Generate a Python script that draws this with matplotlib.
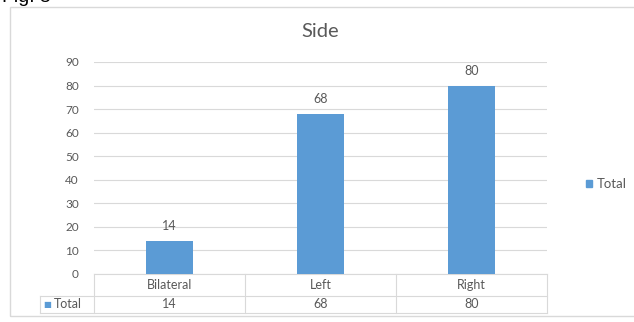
import matplotlib.pyplot as plt
import matplotlib.transforms as mtransforms
from matplotlib.patches import Rectangle, Patch
from matplotlib.lines import Line2D

categories = ["Bilateral", "Left", "Right"]
totals = [14, 68, 80]
series_name = "Total"
yticks = [0, 10, 20, 30, 40, 50, 60, 70, 80, 90]

W, H = 634, 322
blue = "#5B9BD5"
txt = "#595959"
grid = "#D9D9D9"
plt.rcParams['font.family'] = ['Lato', 'DejaVu Sans']

fig = plt.figure(figsize=(W / 100, H / 100), dpi=100)

# outer chart border (Excel chart area)
fig.patches.append(Rectangle((10 / W, 1 - 316 / H), 1.0, (316 - 7) / H,
                             transform=fig.transFigure, fill=False,
                             edgecolor="#D9D9D9", linewidth=1))

fig.text(2 / W, 1 - 2.5 / H, "Fig. 5", fontsize=14, color="black",
         ha="left", va="baseline", family="Liberation Sans")

ax = fig.add_axes([94 / W, 1 - 274 / H, (547 - 94) / W, (274 - 62) / H])
x = list(range(len(categories)))
ax.bar(x, totals, width=0.31, color=blue, zorder=3)
ax.set_xlim(-0.5, len(categories) - 0.5)
ax.set_ylim(0, 90)
ax.set_yticks(yticks)
ax.set_yticklabels([str(v) for v in yticks], fontsize=8.5, color=txt)
ax.tick_params(axis="y", length=0, pad=11)
ax.set_xticks([])
for s in ax.spines.values():
    s.set_visible(False)
ax.yaxis.grid(True, color=grid, linewidth=0.8, zorder=0)

for xi, v in zip(x, totals):
    ax.annotate(str(v), (xi, v), xytext=(0, 6.5), textcoords="offset points",
                ha="center", va="bottom", fontsize=9, color=txt)

ax.set_title("Side", fontsize=14.5, color=txt, pad=18)

# data table under the axis
tr = mtransforms.blended_transform_factory(ax.transData, ax.transAxes)
ta = ax.transAxes
y_top, y_mid, y_bot = 0.0, -22 / 212, -39 / 212
x_left = (40 - 94) / 453
lc = "#D9D9D9"
lines = [
    ((-0.5, 2.5), (y_top, y_top), tr),
    ((x_left, 1.0), (y_mid, y_mid), ta),
    ((x_left, 1.0), (y_bot, y_bot), ta),
    ((x_left, x_left), (y_mid, y_bot), ta),
]
for b in [-0.5, 0.5, 1.5, 2.5]:
    lines.append(((b, b), (y_top, y_bot), tr))
for xs, ys, t in lines:
    ax.add_line(Line2D(xs, ys, transform=t, color=lc, linewidth=0.8, clip_on=False))

for xi, c, v in zip(x, categories, totals):
    ax.text(xi, (y_top + y_mid) / 2, c, transform=tr, ha="center", va="center",
            fontsize=9, color=txt)
    ax.text(xi, (y_mid + y_bot) / 2, str(v), transform=tr, ha="center", va="center",
            fontsize=9, color=txt)
ax.text(x_left + 0.008, (y_mid + y_bot) / 2, "■", transform=ta, ha="left",
        va="center", fontsize=6, color=blue, family="DejaVu Sans")
ax.text(x_left + 0.03, (y_mid + y_bot) / 2, series_name, transform=ta, ha="left",
        va="center", fontsize=9, color=txt)

fig.legend(handles=[Patch(color=blue, label=series_name)], loc="center left",
           bbox_to_anchor=(574 / W, 1 - 184 / H), frameon=False, fontsize=9.5,
           handlelength=0.5, handleheight=0.5, handletextpad=0.3,
           labelcolor=txt)

fig.savefig("out.png", dpi=100)
